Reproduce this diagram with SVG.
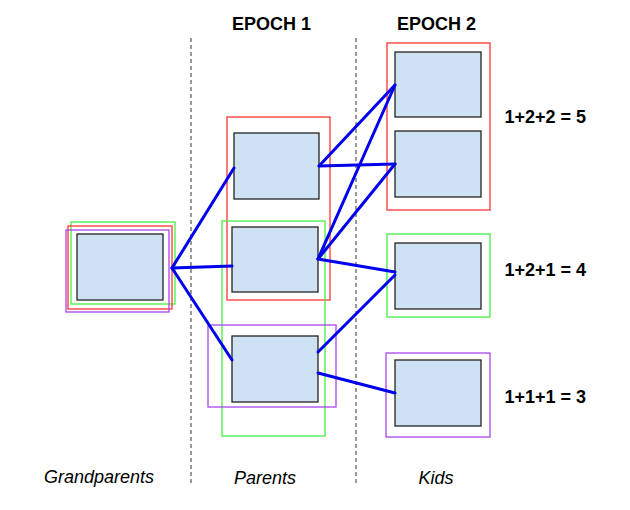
<svg xmlns="http://www.w3.org/2000/svg" width="630" height="510" viewBox="0 0 630 510">
<style>
.bg{fill:#fff}
.box{fill:#cfe2f3;stroke:#222;stroke-width:1.3}
.fr{fill:none;stroke-width:1.3}
.red{stroke:#ff3333}
.grn{stroke:#44ee44}
.pur{stroke:#aa44ee}
.dash{stroke:#333;stroke-width:1;stroke-dasharray:4,3}
.ln{stroke:#0000ee;stroke-width:3;stroke-linecap:round}
.hd{font-family:"Liberation Sans",Arial,sans-serif;font-weight:bold;font-size:18px;fill:#000}
.lb{font-family:"Liberation Sans",Arial,sans-serif;font-style:italic;font-size:18px;fill:#000}
</style>
<rect class="bg" width="630" height="510"/>
<g id="dividers">
<line class="dash" x1="191" y1="38" x2="191" y2="484"/>
<line class="dash" x1="356" y1="38" x2="356" y2="484"/>
</g>
<g id="headers">
<text class="hd" x="271.5" y="30" text-anchor="middle">EPOCH 1</text>
<text class="hd" x="436.5" y="30" text-anchor="middle">EPOCH 2</text>
</g>
<g id="frames">
<rect class="fr grn" x="71" y="222" width="104" height="82"/>
<rect class="fr red" x="68" y="226" width="104" height="83"/>
<rect class="fr pur" x="66" y="230" width="103" height="82"/>
<rect class="fr red" x="227" y="117" width="103" height="183"/>
<rect class="fr grn" x="222" y="221" width="103" height="215"/>
<rect class="fr pur" x="208" y="325" width="128" height="82"/>
<rect class="fr red" x="387" y="43" width="103" height="167"/>
<rect class="fr grn" x="387" y="234" width="103" height="83"/>
<rect class="fr pur" x="386" y="353" width="104" height="84"/>
</g>
<g id="grandparent"><rect class="box" x="77" y="234" width="86" height="66"/></g>
<g id="parent1"><rect class="box" x="234" y="133" width="85" height="66"/></g>
<g id="parent2"><rect class="box" x="232" y="227" width="86" height="65"/></g>
<g id="parent3"><rect class="box" x="232" y="336" width="86" height="66"/></g>
<g id="kid1"><rect class="box" x="395" y="52" width="86" height="65"/></g>
<g id="kid2"><rect class="box" x="395" y="131" width="86" height="66"/></g>
<g id="kid3"><rect class="box" x="395" y="243" width="86" height="66"/></g>
<g id="kid4"><rect class="box" x="395" y="360" width="86" height="66"/></g>
<g id="connectors">
<line class="ln" x1="172" y1="268" x2="234" y2="168"/>
<line class="ln" x1="172" y1="268" x2="232" y2="266"/>
<line class="ln" x1="172" y1="268" x2="232" y2="360"/>
<line class="ln" x1="319" y1="166" x2="395" y2="85"/>
<line class="ln" x1="319" y1="166" x2="395" y2="164"/>
<line class="ln" x1="318" y1="259" x2="395" y2="85"/>
<line class="ln" x1="318" y1="259" x2="395" y2="164"/>
<line class="ln" x1="318" y1="259" x2="395" y2="272"/>
<line class="ln" x1="318" y1="352" x2="395" y2="275"/>
<line class="ln" x1="318" y1="373" x2="395" y2="393"/>
</g>
<g id="sums">
<text class="hd" x="504.5" y="122.5">1+2+2 = 5</text>
<text class="hd" x="504.5" y="276">1+2+1 = 4</text>
<text class="hd" x="504.5" y="402.5">1+1+1 = 3</text>
</g>
<g id="labels">
<text class="lb" x="99" y="483" text-anchor="middle">Grandparents</text>
<text class="lb" x="265" y="484" text-anchor="middle">Parents</text>
<text class="lb" x="436" y="484" text-anchor="middle">Kids</text>
</g>
</svg>
